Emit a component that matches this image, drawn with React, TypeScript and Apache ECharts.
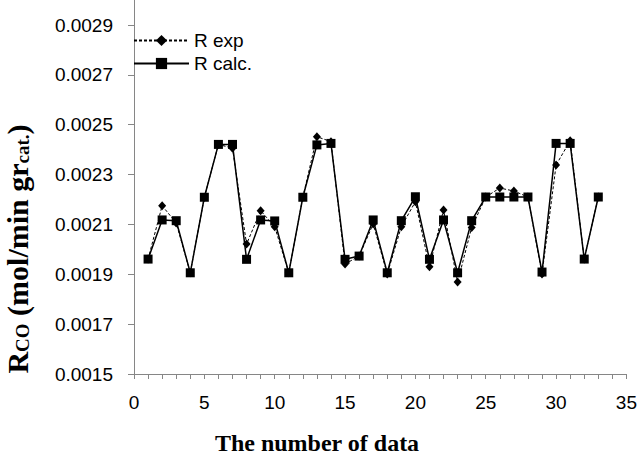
import React, { useEffect, useRef } from "react";
import * as echarts from "echarts";

const xs = [1, 2, 3, 4, 5, 6, 7, 8, 9, 10, 11, 12, 13, 14, 15, 16, 17, 18, 19, 20, 21, 22, 23, 24, 25, 26, 27, 28, 29, 30, 31, 32, 33];
const rExp = [0.001961, 0.002175, 0.002106, 0.001906, 0.002209, 0.002421, 0.002406, 0.002021, 0.002155, 0.002091, 0.001906, 0.002209, 0.002452, 0.002432, 0.001941, 0.001973, 0.002102, 0.001901, 0.002091, 0.002191, 0.00193, 0.002158, 0.001869, 0.002088, 0.00221, 0.002246, 0.002234, 0.00221, 0.001901, 0.002338, 0.002436, 0.001961, 0.00221];
const rCalc = [0.001961, 0.002118, 0.002115, 0.001906, 0.002209, 0.002421, 0.002421, 0.00196, 0.002118, 0.002114, 0.001906, 0.002209, 0.002419, 0.002425, 0.00196, 0.001973, 0.002118, 0.001906, 0.002115, 0.002211, 0.00196, 0.002118, 0.001906, 0.002115, 0.00221, 0.00221, 0.00221, 0.00221, 0.001909, 0.002425, 0.002425, 0.001961, 0.00221];
const seriesNames = ["R exp", "R calc."];
const xTitle = "The number of data";

const AXIS = "#868686";
const LABEL_FONT = "'Liberation Sans', Arial, sans-serif";
const TITLE_FONT = "'Liberation Serif', 'DejaVu Serif', serif";

export default function App() {
  const ref = useRef<HTMLDivElement>(null);
  useEffect(() => {
    if (!ref.current) return;
    const chart = echarts.init(ref.current, null, { renderer: "svg" });
    chart.setOption({
      animation: false,
      backgroundColor: "#ffffff",
      grid: { left: 134, top: 25, width: 495, height: 349, containLabel: false },
      legend: {
        orient: "vertical",
        left: 128,
        top: 26,
        itemWidth: 55,
        itemHeight: 14,
        itemGap: 4,
        textStyle: { fontFamily: LABEL_FONT, fontSize: 19, color: "#000" },
        data: seriesNames,
      },
      xAxis: {
        type: "value",
        min: 0,
        max: 35,
        interval: 5,
        axisLine: { show: true, lineStyle: { color: AXIS, width: 1 } },
        axisTick: { show: true, length: 5, lineStyle: { color: AXIS } },
        minorTick: { show: true, splitNumber: 5, length: 5, lineStyle: { color: AXIS } },
        splitLine: { show: false },
        axisLabel: { fontFamily: LABEL_FONT, fontSize: 19, color: "#000", margin: 19 },
      },
      yAxis: {
        type: "value",
        min: 0.0015,
        max: 0.0029,
        interval: 0.0002,
        axisLine: { show: true, lineStyle: { color: AXIS, width: 1 } },
        axisTick: { show: true, length: 6, lineStyle: { color: AXIS } },
        splitLine: { show: false },
        axisLabel: {
          fontFamily: LABEL_FONT,
          fontSize: 19,
          color: "#000",
          margin: 21,
          formatter: (v: number) => v.toFixed(4),
        },
      },
      graphic: [
        {
          type: "line",
          shape: { x1: 134.5, y1: 0, x2: 134.5, y2: 25 },
          style: { stroke: AXIS, lineWidth: 1 },
        },
        {
          type: "text",
          x: 17,
          y: 249,
          rotation: Math.PI / 2,
          style: {
            text: "{b|R}{s|CO}{b| (mol/min gr}{s|cat.}{b|)}",
            align: "center",
            verticalAlign: "middle",
            rich: {
              b: { fontFamily: TITLE_FONT, fontWeight: "bold", fontSize: 30, lineHeight: 30, fill: "#000" },
              s: { fontFamily: TITLE_FONT, fontWeight: "bold", fontSize: 19, lineHeight: 8, verticalAlign: "bottom", fill: "#000" },
            },
          },
        },
        {
          type: "text",
          x: 317,
          y: 443,
          style: {
            text: xTitle,
            align: "center",
            verticalAlign: "middle",
            fontFamily: TITLE_FONT,
            fontWeight: "bold",
            fontSize: 24,
            fill: "#000",
          },
        },
      ],
      series: [
        {
          name: seriesNames[0],
          type: "line",
          data: xs.map((x, i) => [x, rExp[i]]),
          symbol: "diamond",
          symbolSize: [8, 9],
          itemStyle: { color: "#000" },
          lineStyle: { color: "#000", width: 1, type: [3, 2] },
          z: 2,
        },
        {
          name: seriesNames[1],
          type: "line",
          data: xs.map((x, i) => [x, rCalc[i]]),
          symbol: "rect",
          symbolSize: 9,
          itemStyle: { color: "#000" },
          lineStyle: { color: "#000", width: 1.5 },
          z: 3,
        },
      ],
    });
    return () => chart.dispose();
  }, []);
  return (
    <div
      ref={ref}
      style={{ position: "fixed", left: 0, top: 0, width: 640, height: 456, background: "#fff" }}
    />
  );
}
